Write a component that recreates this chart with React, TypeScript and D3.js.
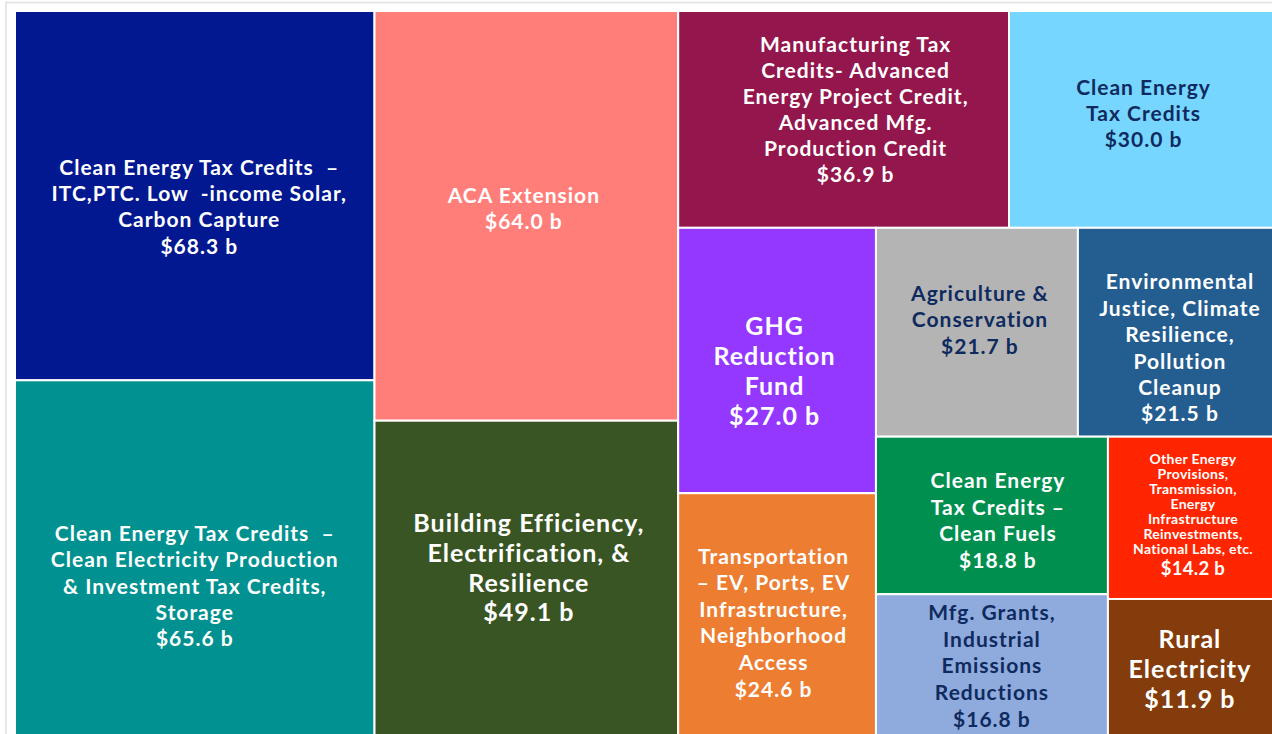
import React from "react";
import * as d3 from "d3";

// ---- data ----
const categories: string[] = [
  "Clean Energy Tax Credits  –\nITC,PTC. Low  -income Solar,\nCarbon Capture",
  "Clean Energy Tax Credits  –\nClean Electricity Production\n& Investment Tax Credits,\nStorage",
  "ACA Extension",
  "Building Efficiency,\nElectrification, &\nResilience",
  "Manufacturing Tax\nCredits- Advanced\nEnergy Project Credit,\nAdvanced Mfg.\nProduction Credit",
  "Clean Energy\nTax Credits",
  "GHG\nReduction\nFund",
  "Transportation\n– EV, Ports, EV\nInfrastructure,\nNeighborhood\nAccess",
  "Agriculture &\nConservation",
  "Environmental\nJustice, Climate\nResilience,\nPollution\nCleanup",
  "Clean Energy\nTax Credits –\nClean Fuels",
  "Mfg. Grants,\nIndustrial\nEmissions\nReductions",
  "Other Energy\nProvisions,\nTransmission,\nEnergy\nInfrastructure\nReinvestments,\nNational Labs, etc.",
  "Rural\nElectricity",
];
const values: number[] = [68.3, 65.6, 64.0, 49.1, 36.9, 30.0, 27.0, 24.6, 21.7, 21.5, 18.8, 16.8, 14.2, 11.9];

// ---- styles (per tile, same order) ----
const fills = [
  "#011890", "#009190", "#FF7E79", "#3A5524", "#93164C", "#76D6FF", "#9437FF",
  "#ED7D31", "#B4B4B4", "#245E91", "#008F4F", "#8FAADC", "#FF2500", "#843C0C",
];
const DARK = "#0E2A5E";
const textColors = [
  "#fff", "#fff", "#fff", "#fff", "#fff", DARK, "#fff",
  "#fff", DARK, "#fff", "#fff", DARK, "#fff", "#fff",
];
const fontSizes = [21, 21, 21, 25, 21, 21, 25, 21, 21, 21, 21, 21, 14, 25];
const valueFontSizes = [21, 21, 21, 25, 21, 21, 25, 21, 21, 21, 21, 21, 18.5, 25];
const letterSpacings = [1, 1, 1, 1, 1, 1, 1, 1, 1, 1, 1, 1, 0.3, 1];
const lineHeights = [26, 26.5, 26, 30, 26, 25.5, 30, 26.5, 26.5, 26.5, 26.5, 26.5, 15, 30];
const valueGaps = [27, 26, 26, 29, 26, 26, 30, 27, 27, 26, 27, 27, 20, 30];
const offX = [4.5, 0, -2.5, 2.5, 12, 0, -2.5, -3.5, 3, 2, 6, 0, 0, -3];
const offY = [10, 27, -9, -11, -11.5, -7.5, 9.5, 7, -13.5, 14, 4, 0, -5, 1.5];

const X0 = 15;
const Y0 = 11;
const W = 1263;
const H = 724;

export default function App() {
  const fmt = d3.format(".1f");
  const rootData = {
    name: "root",
    children: categories.map((c, i) => ({ name: c, value: values[i], idx: i })),
  };
  const root = d3
    .hierarchy<any>(rootData)
    .sum((d: any) => d.value || 0)
    .sort((a, b) => (b.value || 0) - (a.value || 0));
  d3.treemap<any>().tile(d3.treemapSquarify.ratio(1)).size([W, H]).round(false)(root);
  const leaves = root.leaves() as d3.HierarchyRectangularNode<any>[];

  return (
    <svg
      width={1272}
      height={734}
      style={{ position: "absolute", left: 0, top: 0, background: "#fff" }}
      fontFamily="Lato, 'Open Sans', sans-serif"
      fontWeight="bold"
    >
      <rect x={6} y={2.5} width={1400} height={900} fill="#fff" stroke="#E2E2E2" strokeWidth={1.6} />
      <g transform={`translate(${X0},${Y0})`}>
        {leaves.map((lf) => {
          const i = lf.data.idx;
          const lines = categories[i].split("\n");
          const lh = lineHeights[i];
          const gap = valueGaps[i];
          const blockH = (lines.length - 1) * lh + gap;
          const cx = (lf.x0 + lf.x1) / 2 + offX[i];
          const cy = (lf.y0 + lf.y1) / 2 + offY[i];
          const firstY = cy - blockH / 2;
          return (
            <g key={i}>
              <rect
                x={lf.x0}
                y={lf.y0}
                width={lf.x1 - lf.x0}
                height={lf.y1 - lf.y0}
                fill={fills[i]}
                stroke="#fff"
                strokeWidth={2}
              />
              <text
                textAnchor="middle"
                fill={textColors[i]}
                dominantBaseline="central"
                letterSpacing={letterSpacings[i]}
              >
                {lines.map((ln, k) => (
                  <tspan key={k} x={cx} y={firstY + k * lh} fontSize={fontSizes[i]} style={{ whiteSpace: "pre" }}>
                    {ln}
                  </tspan>
                ))}
                <tspan x={cx} y={firstY + (lines.length - 1) * lh + gap} fontSize={valueFontSizes[i]}>
                  {`$${fmt(values[i])} b`}
                </tspan>
              </text>
            </g>
          );
        })}
      </g>
    </svg>
  );
}
